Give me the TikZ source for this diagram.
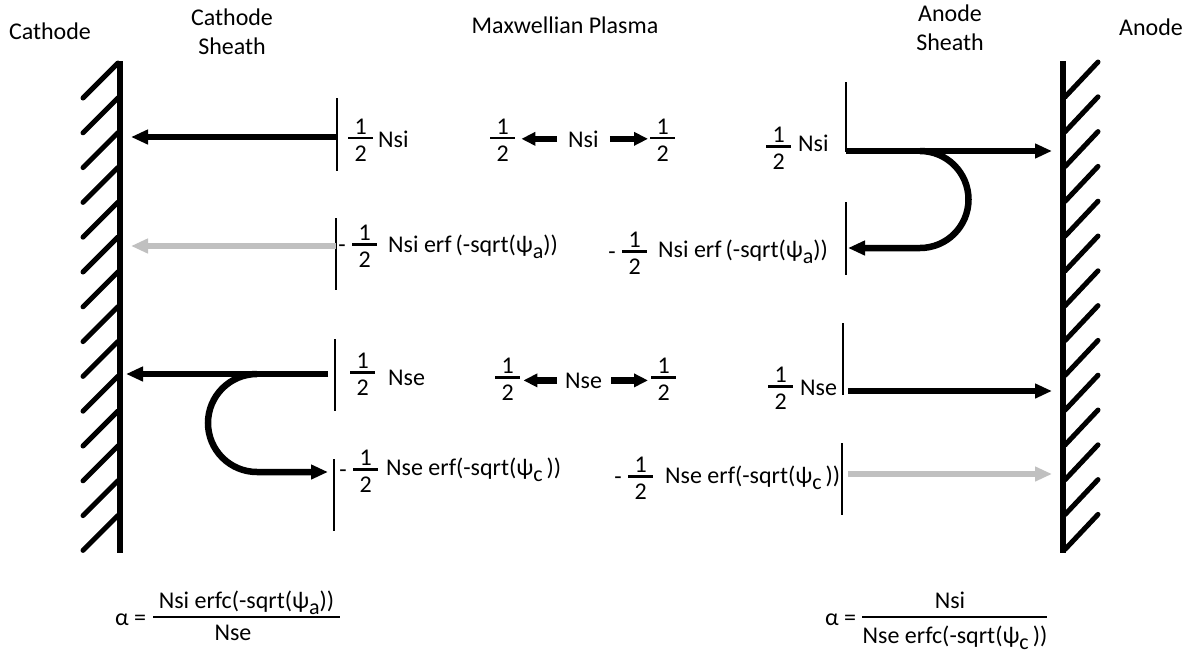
\documentclass[tikz,border=0pt]{standalone}
\usepackage{fontspec}
\setmainfont{Carlito}
\usetikzlibrary{arrows.meta,calc}
\definecolor{arrowgray}{HTML}{C0C0C0}
\newcommand\fr{\vbox{\hbox to 25pt{\hss 1\hss}\kern2.5pt\hrule height 2.6pt\kern6pt\hbox to 25pt{\hss 2\hss}}}
\newcommand\mfr{\llap{\raisebox{15.3pt}{-}\hspace{6.5pt}}\fr}
\newcommand\psisub[1]{ψ\raisebox{-6pt}{\fontsize{22}{22}\selectfont #1}}
\begin{document}
\begin{tikzpicture}[x=1pt,y=-1pt,
  font=\fontsize{24}{29}\selectfont,
  txt/.style={anchor=base west, inner sep=0pt},
  fracn/.style={anchor=base west, inner sep=0pt},
  ttl/.style={anchor=base, inner sep=0pt, align=center},
  mid/.style={anchor=base, inner sep=0pt},
  bigarrow/.style={line width=6.5pt, -{Triangle[length=17pt,width=14pt]}},
  grayarrow/.style={bigarrow, draw=arrowgray, -{Triangle[length=17pt,width=14pt,fill=arrowgray]}},
  midarrow/.style={line width=6.5pt, -{Triangle[length=14pt,width=13pt]}},
  sep/.style={line width=1.2pt},
  wall/.style={line width=5.5pt},
  hatch/.style={line width=5pt, line cap=round},
  fbar/.style={line width=1.3pt}]
\useasboundingbox (0,0) rectangle (1192,654);

% walls
\coordinate (cw1) at (120,61);
\coordinate (cw2) at (120,553);
\coordinate (aw1) at (1063,61);
\coordinate (aw2) at (1063,553);
\draw[wall] (cw1) -- (cw2);
\draw[wall] (aw1) -- (aw2);
\foreach \k in {0,...,13}{
  \draw[hatch] (118,{63+34.8*\k}) -- (83,{98+34.8*\k});
  \draw[hatch] (1065,{97+34.8*\k}) -- (1098,{62+34.8*\k});
}

% separators
\draw[sep] (337,98) -- (337,171);
\draw[sep] (336,218) -- (336,290);
\draw[sep] (335,339) -- (335,411);
\draw[sep] (334,459) -- (334,531);
\draw[sep] (846,82) -- (846,152);
\draw[sep] (846,202) -- (846,275);
\draw[sep] (843,323) -- (843,395);
\draw[sep] (842,443) -- (842,515);

% arrow end points
\coordinate (a1) at (337,137);
\coordinate (a2) at (336,246);
\coordinate (a3) at (328,374);
\coordinate (u1) at (257,374);
\coordinate (a4) at (328,472);
\coordinate (b1) at (846,151);
\coordinate (u2) at (920,151);
\coordinate (b2) at (848,248);
\coordinate (b3) at (848,391);
\coordinate (b4) at (848,474);

% cathode side arrows
\draw[bigarrow, shorten >=11pt] (a1) -- (a1 -| cw1);
\draw[grayarrow, shorten >=11pt] (a2) -- (a2 -| cw1);
\draw[bigarrow, shorten >=6pt] (a3) -- (a3 -| cw1);
\draw[bigarrow] (u1) arc[start angle=270, end angle=90, radius=49] -- (a4);

% anode side arrows
\draw[bigarrow, shorten >=11pt] (b1) -- (b1 -| aw1);
\draw[bigarrow] (u2) arc[start angle=270, end angle=450, radius=48.5] -- (b2);
\draw[bigarrow, shorten >=11pt] (b3) -- (b3 -| aw1);
\draw[grayarrow, shorten >=11pt] (b4) -- (b4 -| aw1);

% titles
\node[ttl] (cath) at (50,39) {Cathode};
\node[ttl] (cs) at (232,54) {Cathode\\Sheath};
\node[ttl] (mp) at (565,33) {Maxwellian Plasma};
\node[ttl] (as) at (950,50) {Anode\\Sheath};
\node[ttl] (an) at (1151,35) {Anode};

% row 1
\node[fracn] (F1) at (348,161) {\fr};
\node[txt] (T1) at (378,147) {Nsi};
\node[fracn] (F2) at (490,161) {\fr};
\node[txt] (T2) at (568,147) {Nsi};
\node[fracn] (F3) at (650,161) {\fr};
\node[fracn] (F4) at (766,169.5) {\fr};
\node[txt] (T4) at (798,151) {Nsi};
\draw[midarrow, shorten <=11pt, shorten >=6pt] (T2.west) -- (F2.east |- T2.west);
\draw[midarrow, shorten <=11pt, shorten >=2pt] (T2.east) -- (F3.west |- T2.east);

% row 2
\node[fracn] (F5) at (352,267.5) {\mfr};
\node[txt] (T5) at (388,252) {Nsi erf\,(-sqrt(\psisub{a}))};
\node[fracn] (F6) at (622,274.5) {\mfr};
\node[txt] (T6) at (658,257) {Nsi erf\,(-sqrt(\psisub{a}))};

% row 3
\node[fracn] (F7) at (350,395.5) {\fr};
\node[txt] (T7) at (388,385) {Nse};
\node[fracn] (F8) at (495,400.5) {\fr};
\node[txt] (T8) at (565,388) {Nse};
\node[fracn] (F9) at (651,400.5) {\fr};
\node[fracn] (F10) at (768,409.5) {\fr};
\node[txt] (T10) at (800,395) {Nse};
\draw[midarrow, shorten <=8pt, shorten >=3pt] (T8.west) -- (F8.east |- T8.west);
\draw[midarrow, shorten <=9pt, shorten >=3pt] (T8.east) -- (F9.west |- T8.east);

% row 4
\node[fracn] (F11) at (353,492.5) {\mfr};
\node[txt] (T11) at (386,475) {Nse erf(-sqrt(\psisub{c}\,))};
\node[fracn] (F12) at (628,499.5) {\mfr};
\node[txt] (T12) at (665,483) {Nse erf(-sqrt(\psisub{c}\,))};

% alpha formulas
\node[txt] (al1) at (115,625) {α =};
\node[mid] (n1) at (246.5,608) {Nsi erfc(-sqrt(\psisub{a}))};
\node[mid] (d1) at (233,640) {Nse};
\draw[fbar] (153,617) -- (340,617);
\node[txt] (al2) at (825,625) {α =};
\node[mid] (n2) at (950,608) {Nsi};
\node[mid] (d2) at (955,643) {Nse erfc(-sqrt(\psisub{c}\,))};
\draw[fbar] (862,617) -- (1047,617);
\end{tikzpicture}
\end{document}
